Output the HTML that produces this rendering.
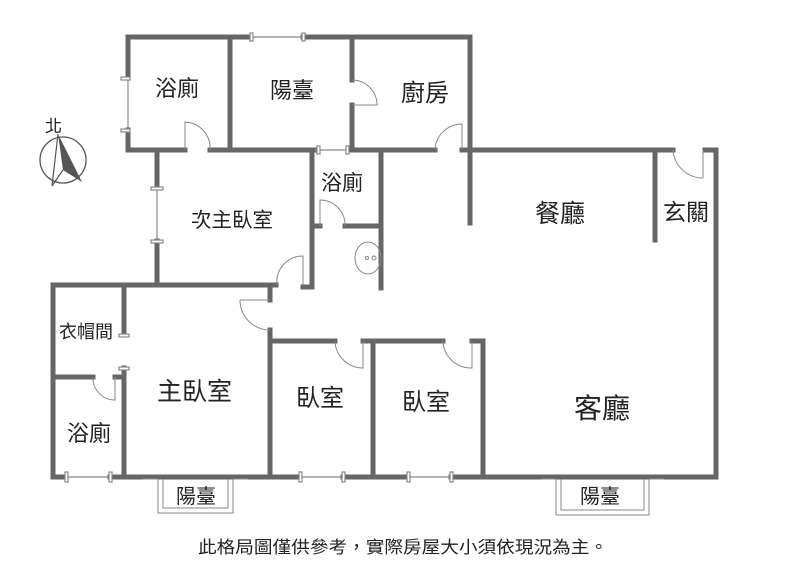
<!DOCTYPE html>
<html><head><meta charset="utf-8"><style>
html,body{margin:0;padding:0;background:#fff;}
svg{display:block}
text{font-family:"Liberation Sans","Noto Sans CJK TC",sans-serif;fill:#222;}
</style></head><body>
<svg width="797" height="575" viewBox="0 0 797 575" xmlns="http://www.w3.org/2000/svg">
<g stroke="#666" stroke-width="5" fill="none" stroke-linecap="square">
<path d="M128 37 H251 M303 37 H470"/>
<path d="M128 37 V78 M128 130 V150"/>
<path d="M230 37 V150"/>
<path d="M352 37 V80 M352 105 V150"/>
<path d="M470 37 V223"/>
<path d="M128 150 H185 M210 150 H315 M348 150 H435 M462 150 H673 M705 150 H716"/>
<path d="M716 150 V477"/>
<path d="M655 150 V240"/>
<path d="M157 150 V188 M157 241 V285"/>
<path d="M312 150 V287 H303"/>
<path d="M381 150 V288"/>
<path d="M312 226 H320 M345 226 H381"/>
<path d="M53 285 H276"/>
<path d="M270 285 V300 M270 330 V477"/>
<path d="M53 285 V477"/>
<path d="M124 285 V335 M124 368 V477"/>
<path d="M53 377 H93 M115 377 H124"/>
<path d="M270 341 H335 M363 341 H443 M472 341 H483"/>
<path d="M373 341 V477"/>
<path d="M483 341 V477"/>
<path d="M53 477 H66 M110 477 H300 M343 477 H408 M451 477 H716"/>
</g>
<g stroke="#888" stroke-width="1.2" fill="#fff">
<line x1="251" y1="37" x2="303" y2="37"/><rect x="250" y="33" width="3" height="8"/><rect x="302" y="33" width="3" height="8"/>
<line x1="128" y1="78" x2="128" y2="130"/><rect x="121" y="77" width="9" height="3"/><rect x="121" y="129" width="9" height="3"/>
<line x1="157" y1="188" x2="157" y2="241"/><rect x="151" y="187" width="12" height="3"/><rect x="151" y="240" width="12" height="3"/>
<line x1="315" y1="150" x2="348" y2="150"/><rect x="317" y="146" width="3" height="8"/><rect x="346" y="146" width="3" height="8"/>
<line x1="66" y1="477" x2="110" y2="477"/><rect x="65" y="472" width="3" height="10"/><rect x="109" y="472" width="3" height="10"/>
<line x1="300" y1="477" x2="343" y2="477"/><rect x="299" y="472" width="3" height="10"/><rect x="342" y="472" width="3" height="10"/>
<line x1="408" y1="477" x2="451" y2="477"/><rect x="407" y="472" width="3" height="10"/><rect x="450" y="472" width="3" height="10"/>
<rect x="119" y="334" width="10" height="3"/><rect x="119" y="367" width="10" height="3"/>
</g>
<g stroke="#888" stroke-width="1" fill="none">
<path d="M185 150 V122 A26 26 0 0 1 210 150"/>
<path d="M352 80 A25 25 0 0 1 377 105 H352"/>
<path d="M435 150 A27 27 0 0 1 462 124 V150"/>
<path d="M673 150 A30 30 0 0 0 703 178 V150"/>
<path d="M320 226 V200 A25 25 0 0 1 345 226"/>
<path d="M277 285 A26 26 0 0 1 303 256 V285"/>
<path d="M240 300 H270 M240 300 A30 30 0 0 0 270 330"/>
<path d="M335 341 A28 28 0 0 0 363 368 V341"/>
<path d="M443 341 A28 28 0 0 0 472 368 V341"/>
<path d="M93 377 A22 22 0 0 0 115 400 V377"/>
<ellipse cx="368" cy="258" rx="13" ry="16"/>
<circle cx="374" cy="258" r="2"/><circle cx="367" cy="258" r="1.5"/>
<path d="M143 479 H158 V513 H233 V479 H248"/>
<path d="M163 479 V508 H228 V479"/>
<path d="M541 479 H556 V515 H649 V479 H664"/>
<path d="M561 479 V510 H644 V479"/>
<circle cx="63" cy="160" r="23" stroke="#555" stroke-width="1.3"/>
</g>
<polygon points="58,134 82,182 63,170" fill="#555"/>
<polyline points="58,134 52,186 63,170" fill="none" stroke="#555" stroke-width="1.2"/>
<text x="155" y="96" font-size="22">浴廁</text>
<text x="270" y="98" font-size="22">陽臺</text>
<text x="401" y="101" font-size="24">廚房</text>
<text x="321" y="190" font-size="21">浴廁</text>
<text x="191" y="227" font-size="20.5">次主臥室</text>
<text x="535" y="222" font-size="25">餐廳</text>
<text x="663" y="220" font-size="23">玄關</text>
<text x="157" y="400" font-size="25">主臥室</text>
<text x="296" y="406" font-size="24">臥室</text>
<text x="402" y="410" font-size="24">臥室</text>
<text x="574" y="418" font-size="28">客廳</text>
<text x="67" y="441" font-size="22">浴廁</text>
<text x="176" y="503" font-size="20">陽臺</text>
<text x="580" y="503" font-size="20">陽臺</text>
<text x="45" y="132" font-size="17">北</text>
<text x="59" y="338" font-size="18">衣帽間</text>
<text x="198" y="553" font-size="17" textLength="410" lengthAdjust="spacingAndGlyphs">此格局圖僅供參考，實際房屋大小須依現況為主。</text>
</svg>
</body></html>
